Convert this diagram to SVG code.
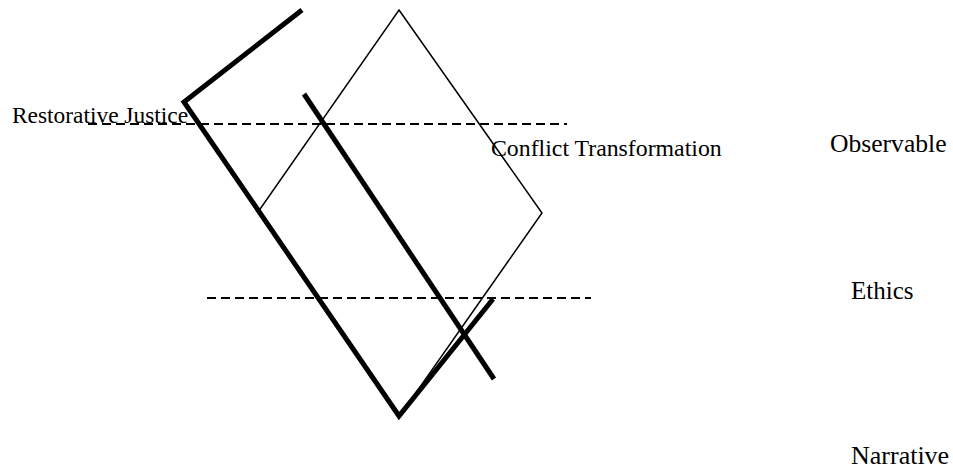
<svg xmlns="http://www.w3.org/2000/svg" width="953" height="470" viewBox="0 0 953 470">
<style>
.thick{fill:none;stroke:#000;stroke-width:5;stroke-linejoin:miter}
.thin{fill:none;stroke:#000;stroke-width:1.5}
.dash{fill:none;stroke:#000;stroke-width:2;stroke-dasharray:9 5}
.lbl{font-family:'Liberation Serif','Times New Roman',serif;fill:#000}
</style>
<rect width="953" height="470" fill="#fff"/>
<g id="connectors">
<line class="dash" x1="88" y1="124" x2="567" y2="124"/>
<line class="dash" x1="207" y1="298" x2="591" y2="298"/>
<polygon class="thin" points="399,10 542,213 399,417 258,212"/>
<polyline class="thick" points="302,10 184,102 399,416 493,299"/>
<line class="thick" x1="304" y1="94" x2="494" y2="379"/>
</g>
<g id="restorative-justice"><text class="lbl" x="12" y="122.5" font-size="23.4">Restorative Justice</text></g>
<g id="conflict-transformation"><text class="lbl" x="491" y="155.5" font-size="23.8">Conflict Transformation</text></g>
<g id="observable"><text class="lbl" x="830" y="151.5" font-size="25.6">Observable</text></g>
<g id="ethics"><text class="lbl" x="851" y="299" font-size="25">Ethics</text></g>
<g id="narrative"><text class="lbl" x="851" y="464" font-size="26">Narrative</text></g>
</svg>
